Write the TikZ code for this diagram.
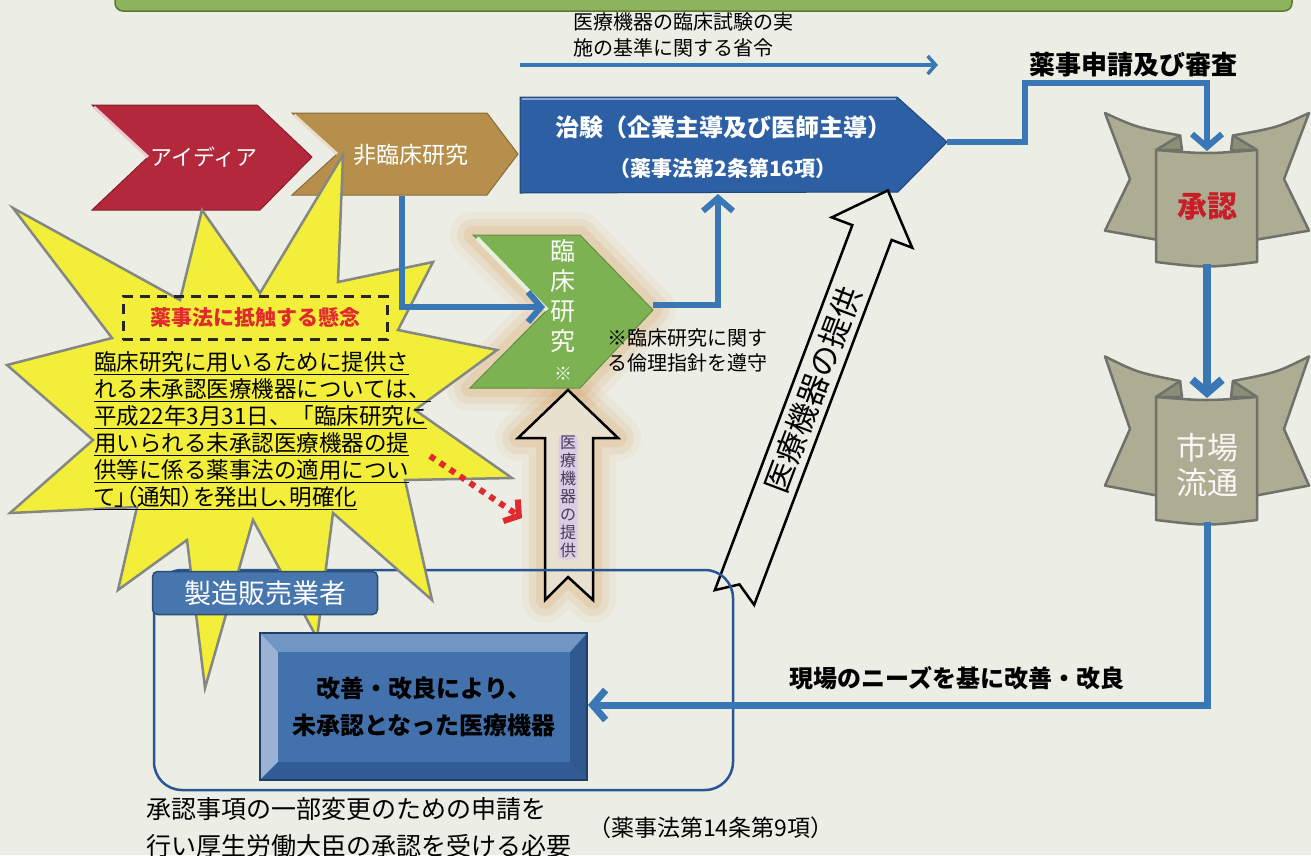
\documentclass[tikz,border=0pt]{standalone}
\usepackage{fontspec}
\setmainfont{Noto Sans CJK JP}
\newfontfamily\propjp{Noto Sans CJK JP}[RawFeature=+palt]
\usetikzlibrary{arrows.meta}

\definecolor{paper}{HTML}{ECEDE5}
\definecolor{topgreen}{HTML}{8DB45C}
\definecolor{ideared}{HTML}{B3283A}
\definecolor{tan}{HTML}{B68F4C}
\definecolor{rinshogreen}{HTML}{7DB253}
\definecolor{chikenblue}{HTML}{2C5FA3}
\definecolor{lineblue}{HTML}{3A77B5}
\definecolor{burst}{HTML}{F2EE3A}
\definecolor{burstline}{HTML}{858782}
\definecolor{bannerfill}{HTML}{ADAD93}
\definecolor{bannerline}{HTML}{6F716B}
\definecolor{bannerfold}{HTML}{8C8D76}
\definecolor{tabblue}{HTML}{4676AD}
\definecolor{boxface}{HTML}{4271AC}
\definecolor{bevtop}{HTML}{7096C6}
\definecolor{bevleft}{HTML}{9AB2D3}
\definecolor{bevright}{HTML}{2F5891}
\definecolor{bevbot}{HTML}{315C95}
\definecolor{glowc}{HTML}{D79A55}
\definecolor{warnred}{HTML}{E02A2E}
\definecolor{shoninred}{HTML}{C81E28}
\definecolor{lav}{HTML}{D9CCE3}
\definecolor{purpletext}{HTML}{4A3A5C}

\tikzset{
  flow/.style={draw=lineblue, line width=6pt, -{Straight Barb[length=13pt,width=30pt]}},
  thinflow/.style={draw=lineblue, line width=3.5pt, -{Straight Barb[length=8pt,width=18pt]}},
  hollow/.style={draw=black, line width=2.5pt, line join=miter},
  banner line/.style={draw=bannerline, line width=2.5pt, line join=round},
  label/.style={inner sep=0pt, text=black},
}

% banner: centre x, top y, height
\newcommand{\banner}[3]{%
  \filldraw[fill=bannerfill, banner line] ({#1-102},{#2-0.33*#3}) .. controls ({#1-70},{#2-0.2*#3}) .. ({#1-27},{#2-0.13*#3})
    -- ({#1-25},{#2+0.8*#3}) -- ({#1-51},{#2+0.8*#3}) -- ({#1-102},{#2+0.72*#3}) -- ({#1-77},{#2+0.26*#3}) -- cycle;
  \filldraw[fill=bannerfill, banner line] ({#1+102},{#2-0.33*#3}) .. controls ({#1+70},{#2-0.2*#3}) .. ({#1+26},{#2-0.13*#3})
    -- ({#1+24},{#2+0.8*#3}) -- ({#1+50},{#2+0.8*#3}) -- ({#1+102},{#2+0.72*#3}) -- ({#1+77},{#2+0.26*#3}) -- cycle;
  \filldraw[fill=bannerfold, banner line] ({#1-51},{#2}) -- ({#1-27},{#2-0.13*#3}) -- ({#1-25},{#2}) -- cycle;
  \filldraw[fill=bannerfold, banner line] ({#1+50},{#2}) -- ({#1+26},{#2-0.13*#3}) -- ({#1+24},{#2}) -- cycle;
  \filldraw[fill=bannerfill, banner line] ({#1-51},{#2}) .. controls ({#1},{#2+4}) .. ({#1+50},{#2})
    -- ({#1+50},{#2+#3}) .. controls ({#1},{#2+#3+6}) .. ({#1-51},{#2+#3}) -- cycle;
}

\begin{document}
\begin{tikzpicture}[x=1pt,y=-1pt]
\useasboundingbox (0,0) rectangle (1311,855);
\fill[paper] (0,0) rectangle (1311,855);
\filldraw[fill=topgreen, draw=topgreen!65!black, line width=1.5pt, rounded corners=8pt] (115,-14) rectangle (1292,11);

% glow behind clinical research and the small arrow
\foreach \w/\o in {46/0.08, 32/0.12, 18/0.18} {
  \draw[glowc, line width=\w pt, line join=round, opacity=\o] (473,235) -- (580,235) -- (653,310) -- (580,388) -- (470,388) -- (547,310) -- cycle;
  \draw[glowc, line width=\w pt, line join=round, opacity=\o] (545,600) -- (545,438) -- (518,438) -- (568,390) -- (618,438) -- (593,438) -- (593,600) -- (568,577) -- cycle;
}

% process chevrons
\filldraw[fill=ideared, draw=ideared!75!black, line width=1pt] (92,105) -- (257,105) -- (312,157) -- (260,210) -- (92,210) -- (148,157) -- cycle;
\draw[white!75!ideared, line width=3pt] (94,107) -- (148,157);
\filldraw[fill=tan, draw=tan!75!black, line width=1pt] (292,113) -- (487,113) -- (518,154) -- (487,195) -- (292,195) -- (337,154) -- cycle;
\draw[white!70!tan, line width=3pt] (294,115) -- (337,154);
\filldraw[fill=rinshogreen, draw=rinshogreen!80!black, line width=1pt] (473,235) -- (580,235) -- (653,310) -- (580,388) -- (470,388) -- (547,310) -- cycle;
\draw[white!80!rinshogreen, line width=4pt] (477,238) -- (547,310);
\filldraw[fill=chikenblue, draw=chikenblue!75!black, line width=1pt] (520,97) -- (897,97) -- (947,142) -- (898,192) -- (520,193) -- cycle;
\draw[white!45!chikenblue, line width=2pt] (522,99) -- (896,99);

% small supply arrow
\filldraw[fill=paper!85!glowc, hollow] (545,600) -- (545,438) -- (518,438) -- (568,390) -- (618,438) -- (593,438) -- (593,600) -- (568,577) -- cycle;
\node[fill=lav, rounded corners=4pt, inner sep=1.5pt, text=purpletext, font=\fontsize{16}{18}\selectfont, align=center] (supplysmall) at (568,497) {医\\療\\機\\器\\の\\提\\供};

% big supply arrow
\begin{scope}[shift={(734.5,597.5)}, rotate=69.36]
  \filldraw[fill=paper, hollow] (0,-21) -- (390,-21) -- (390,-43) -- (435,0) -- (390,43) -- (390,21) -- (0,21) -- (14,0) -- cycle;
  \node[label, rotate=69.36, font=\fontsize{31}{31}\selectfont] (supply) at (222,0) {医療機器の提供};
\end{scope}

% manufacturer frame
\draw[chikenblue!90!black, line width=2.5pt, rounded corners=28pt] (154,570) rectangle (733,790);

% warning burst
\filldraw[fill=burst, draw=burstline, line width=2.5pt] (13,208) -- (180,300) -- (202,210) -- (260,293) -- (343,155) -- (338,282)
  -- (433,262) -- (398,330) -- (497,350) -- (415,410) -- (512,478) -- (405,480) -- (432,600) -- (333,513) -- (317,638)
  -- (253,520) -- (205,688) -- (187,540) -- (118,590) -- (137,507) -- (10,513) -- (93,440) -- (7,365) -- (112,338) -- cycle;
\node[draw=black!85, line width=3pt, dash pattern=on 10pt off 7pt, minimum width=264pt, minimum height=43pt, inner sep=0pt,
  text=warnred, font=\bfseries\fontsize{21}{21}\selectfont] (concern) at (255,318) {薬事法に抵触する懸念};
\node[label, anchor=west, align=left, font=\fontsize{22.5}{27}\selectfont] (notice) at (94,431)
  {\underline{臨床研究に用いるために提供さ}\\\underline{れる未承認医療機器については、}\\\underline{平成22年3月31日、「臨床研究に}\\
   \underline{用いられる未承認医療機器の提}\\\underline{供等に係る薬事法の適用につい}\\\underline{\propjp て」（通知）を発出し、明確化}};

\node[fill=tabblue, draw=tabblue!65!black, line width=1.5pt, rounded corners=5pt, minimum width=225pt, minimum height=43pt,
  text=white, font=\fontsize{27}{27}\selectfont] (maker) at (265,593) {製造販売業者};

% modified device box
\fill[bevright] (260,633) rectangle (587,780);
\fill[bevtop] (260,633) -- (587,633) -- (570,652) -- (278,652) -- cycle;
\fill[bevleft] (260,633) -- (278,652) -- (278,762) -- (260,780) -- cycle;
\fill[bevbot] (260,780) -- (278,762) -- (570,762) -- (587,780) -- cycle;
\fill[boxface] (278,652) rectangle (570,762);
\draw[bevright!70!black, line width=1.5pt] (260,633) rectangle (587,780);
\node[label, align=center, font=\bfseries\fontsize{24}{37}\selectfont] (kaizen) at (424,707) {改善・改良により、\\未承認となった医療機器};

% approval and market
\banner{1207}{150}{112}
\banner{1207}{397}{123}
\node[text=shoninred, font=\bfseries\fontsize{30}{30}\selectfont] (shonin) at (1207,207) {承認};
\node[text=white!92!bannerfill, align=center, font=\fontsize{31}{35}\selectfont] (shijo) at (1207,465) {市場\\流通};

% connector points
\coordinate (gcpstart) at (520,65);
\coordinate (gcpend) at (938,65);
\coordinate (nonclinbot) at (402,196);
\coordinate (rinshonotch) at (545,307);
\coordinate (rinshotip) at (653,305);
\coordinate (chikenbot) at (718,194);
\coordinate (chikentip) at (947,142);
\coordinate (reviewbend) at (1025,83);
\coordinate (shonintop) at (1207,151);
\coordinate (shoninbot) at (1207,264);
\coordinate (shijotop) at (1207,398);
\coordinate (shijobot) at (1207,522);
\coordinate (boxeast) at (588,705);
\coordinate (warnstart) at (430,456);
\coordinate (warnend) at (522,518);

\draw[thinflow] (gcpstart) -- (gcpend);
\draw[flow] (nonclinbot) |- (rinshonotch);
\draw[flow] (rinshotip) -| (chikenbot);
\draw[flow] (chikentip) -| (reviewbend) -| (shonintop);
\draw[flow, line width=8pt] (shoninbot) -- (shijotop);
\draw[flow, line width=7pt] (shijobot) |- (boxeast);
\draw[warnred, line width=6pt, dash pattern=on 6pt off 6pt, -{Straight Barb[length=10pt,width=26pt]}] (warnstart) -- (warnend);

% texts
\node[label, anchor=west, align=left, font=\fontsize{20}{26}\selectfont] (gcp) at (573,35) {医療機器の臨床試験の実\\施の基準に関する省令};
\node[text=white, font=\fontsize{22}{22}\selectfont] (idea) at (204,157) {アイディア};
\node[text=white, font=\fontsize{23}{23}\selectfont] (nonclin) at (411,155) {非臨床研究};
\node[text=white!95!rinshogreen, align=center, font=\fontsize{25}{30}\selectfont] (rinsho) at (563,310) {臨\\床\\研\\究\\{\fontsize{18}{20}\selectfont ※}};
\node[text=white, font=\bfseries\fontsize{24}{24}\selectfont] (chiken) at (723,127) {治験（企業主導及び医師主導）};
\node[text=white, font=\bfseries\fontsize{21}{21}\selectfont] (chikenlaw) at (723,168) {（薬事法第2条第16項）};
\node[label, anchor=west, align=left, font=\fontsize{20}{25}\selectfont] (ethics) at (607,350) {※臨床研究に関す\\る倫理指針を遵守};
\node[label, font=\bfseries\fontsize{26}{26}\selectfont] (review) at (1133,65) {薬事申請及び審査};
\node[label, font=\bfseries\fontsize{24}{24}\selectfont] (needs) at (957,678) {現場のニーズを基に改善・改良};
\node[label, anchor=west, align=left, font=\fontsize{25}{37}\selectfont] (partial) at (146,828) {承認事項の一部変更のための申請を\\行い厚生労働大臣の承認を受ける必要};
\node[label, anchor=west, font=\fontsize{23}{23}\selectfont] (law14) at (588,828) {（薬事法第14条第9項）};
\end{tikzpicture}
\end{document}
